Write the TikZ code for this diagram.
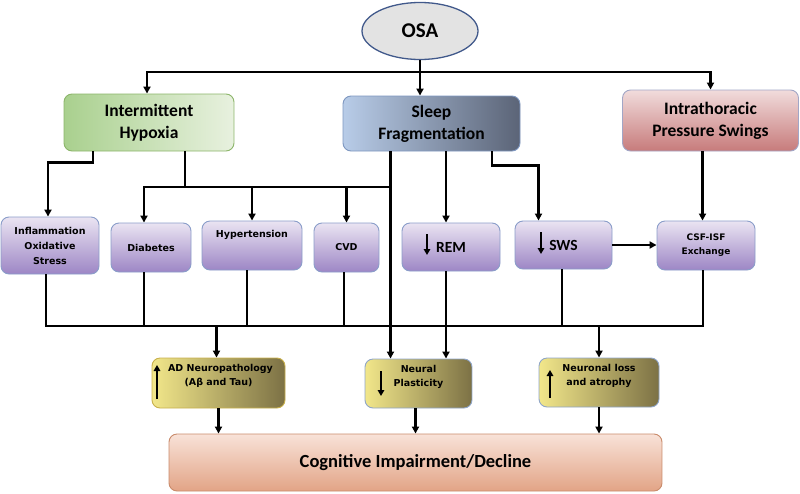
\documentclass[tikz,border=0pt]{standalone}
\usepackage{fontspec}
\setmainfont{Carlito}
\newfontfamily\dv{DejaVu Sans}
\usetikzlibrary{arrows.meta,shapes.geometric}
\definecolor{osaF}{HTML}{E3E3E3}
\definecolor{osaD}{HTML}{41598B}
\definecolor{ihL}{HTML}{A9D08E}
\definecolor{ihR}{HTML}{E8F1DF}
\definecolor{ihD}{HTML}{8CB56A}
\definecolor{sfL}{HTML}{B8CCE8}
\definecolor{sfR}{HTML}{5B6477}
\definecolor{sfD}{HTML}{7E97C0}
\definecolor{ipT}{HTML}{F1DCDC}
\definecolor{ipB}{HTML}{C77B7B}
\definecolor{ipD}{HTML}{A2A6C6}
\definecolor{puT}{HTML}{EAE4F2}
\definecolor{puB}{HTML}{9D86C5}
\definecolor{puD}{HTML}{8A9DC9}
\definecolor{yeL}{HTML}{F2E78A}
\definecolor{yeR}{HTML}{7C7145}
\definecolor{yeD}{HTML}{C8B04C}
\definecolor{nbD}{HTML}{8FA5C8}
\definecolor{coT}{HTML}{F8E2D8}
\definecolor{coB}{HTML}{E2A486}
\definecolor{coD}{HTML}{C98B6B}
\tikzset{
  box/.style={rounded corners=8pt, draw, inner sep=0pt, align=center, line width=0.9pt},
  big/.style={box, font=\bfseries\fontsize{17.5}{22}\selectfont},
  purp/.style={box, top color=puT, bottom color=puB, draw=puD, font=\dv\bfseries\fontsize{9.5}{15}\selectfont},
  purpbig/.style={purp, font=\bfseries\fontsize{15.5}{18}\selectfont},
  yel/.style={box, left color=yeL, right color=yeR, draw=nbD, font=\dv\bfseries\fontsize{9.5}{14}\selectfont},
  line/.style={line width=2.3pt, black},
  arr/.style={line, -{Triangle[length=7pt,width=7pt]}},
  glyph/.style={line width=2.2pt, -{Triangle[length=6pt,width=6.5pt]}}
}
\begin{document}
\begin{tikzpicture}[x=1pt,y=-1pt]
\useasboundingbox (0,0) rectangle (800,493);
% nodes
\node[ellipse, draw=osaD, fill=osaF, line width=1.3pt, minimum width=116pt, minimum height=57pt, inner sep=0pt, font=\bfseries\fontsize{21}{24}\selectfont] (osa) at (420,31) {OSA};
\node[big, left color=ihL, right color=ihR, draw=ihD, minimum width=170pt, minimum height=57pt] (ih) at (149,122.5) {Intermittent\\Hypoxia};
\node[big, left color=sfL, right color=sfR, draw=sfD, minimum width=177pt, minimum height=55pt] (sf) at (431.5,123.5) {Sleep\\Fragmentation};
\node[big, top color=ipT, bottom color=ipB, draw=ipD, minimum width=176pt, minimum height=61pt] (ip) at (710.5,120.5) {Intrathoracic\\Pressure Swings};
\node[purp, minimum width=98pt, minimum height=57pt] (infl) at (50,245.5) {Inflammation\\Oxidative\\Stress};
\node[purp, minimum width=80pt, minimum height=49pt] (diab) at (151,247.5) {Diabetes};
\node[purp, minimum width=100pt, minimum height=49pt] (hyp) at (252,245.5) {Hypertension\\[8pt]};
\node[purp, minimum width=65pt, minimum height=49pt] (cvd) at (346.5,247.5) {CVD};
\node[purpbig, minimum width=98pt, minimum height=48pt] (rem) at (451,247) {REM};
\node[purpbig, minimum width=97pt, minimum height=48pt] (sws) at (563.5,245) {SWS};
\node[purp, font=\dv\bfseries\fontsize{9}{14}\selectfont, minimum width=98pt, minimum height=49pt] (csf) at (706,245.5) {CSF-ISF\\Exchange};
\node[yel, draw=yeD, minimum width=133pt, minimum height=50pt] (ad) at (218.5,383) {\hspace*{4pt}AD Neuropathology\\(Aβ and Tau)\\[2pt]};
\node[yel, minimum width=107pt, minimum height=49pt] (np) at (418.5,383.5) {Neural\\Plasticity\\[2pt]};
\node[yel, minimum width=120pt, minimum height=49pt] (nl) at (599,382.5) {Neuronal loss\\and atrophy\\[2pt]};
\node[box, top color=coT, bottom color=coB, draw=coD, minimum width=493pt, minimum height=57pt, font=\bfseries\fontsize{18.5}{22}\selectfont] (cog) at (415.5,462.5) {Cognitive Impairment/Decline};
% glyph arrows inside boxes
\draw[glyph] (427,234) -- (427,255);
\draw[glyph] (541,232) -- (541,254);
\draw[glyph] (157,399) -- (157,365);
\draw[glyph] (381,371) -- (381,396);
\draw[glyph] (550,398) -- (550,370);
% connectors
\coordinate (hubT) at (421,72);
\draw[arr] (osa.south) -- (osa.south |- sf.north);
\draw[arr] (hubT) -| ([xshift=-2]ih.north);
\draw[arr] (hubT) -| (ip.north);
\draw[arr] ([xshift=-56]ih.south) -- ++(0,11) -| ([xshift=-2]infl.north);
\coordinate (busA) at (390,187);
\draw[line] ([xshift=36]ih.south) -- ([xshift=36]ih.south |- busA);
\draw[arr] (busA) -| ([xshift=-7]diab.north);
\draw[arr] (busA -| hyp.north) -- (hyp.north);
\draw[arr] (busA -| cvd.north) -- (cvd.north);
\draw[arr] ([xshift=-41]sf.south) -- ([xshift=-41]sf.south |- np.north);
\draw[arr] ([xshift=14.5]sf.south) -- ([xshift=14.5]sf.south |- rem.north);
\draw[arr] ([xshift=60.5]sf.south) -- ++(0,14) -| ([xshift=-25]sws.north);
\draw[arr] ([xshift=-8]ip.south) -- ([xshift=-8]ip.south |- csf.north);
\draw[arr] (sws.east) -- (sws.east -| csf.west);
\coordinate (busB) at (703,326);
\draw[line] ([xshift=-4]infl.south) |- (busB) -- ([xshift=-3]csf.south);
\draw[line] ([xshift=-7]diab.south) -- ([xshift=-7]diab.south |- busB);
\draw[line] ([xshift=-5]hyp.south) -- ([xshift=-5]hyp.south |- busB);
\draw[line] ([xshift=-2.5]cvd.south) -- ([xshift=-2.5]cvd.south |- busB);
\draw[line] ([xshift=-1.5]sws.south) -- ([xshift=-1.5]sws.south |- busB);
\draw[arr] ([xshift=-5]rem.south) -- ([xshift=-5]rem.south |- np.north);
\draw[arr] (busB -| ad.north) ++(-2,0) -- ([xshift=-2]ad.north);
\draw[arr] (busB -| nl.north) -- (nl.north);
\draw[arr] (ad.south) -- (ad.south |- cog.north);
\draw[arr] ([xshift=-3]np.south) -- ([xshift=-3]np.south |- cog.north);
\draw[arr] (nl.south) -- (nl.south |- cog.north);
\end{tikzpicture}
\end{document}
